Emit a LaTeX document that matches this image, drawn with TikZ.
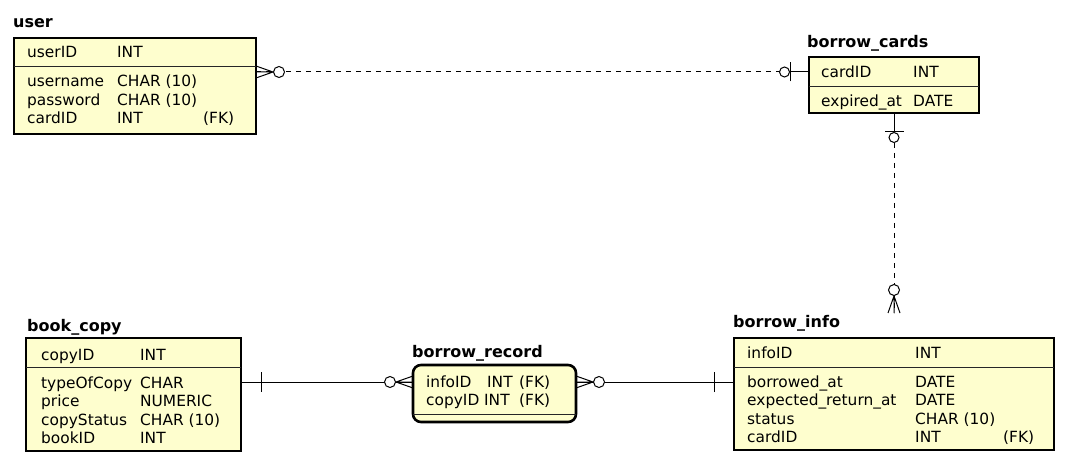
\documentclass[tikz,border=0pt]{standalone}
\usepackage{fontspec}
\setmainfont{DejaVu Sans}
\usetikzlibrary{calc}
\definecolor{entfill}{HTML}{FEFECE}
\begin{document}
\begin{tikzpicture}[x=1pt,y=-1pt,
  ent/.style={draw=black, line width=2.6pt, fill=entfill, anchor=north west, inner sep=0pt, outer sep=0pt},
  ttl/.style={anchor=base west, inner sep=0pt, font=\fontsize{16}{18}\selectfont\bfseries},
  fld/.style={anchor=base west, inner sep=0pt, font=\fontsize{15.4}{18}\selectfont},
  sep/.style={line width=0.8pt, draw=black!85},
  rel/.style={line width=1pt, solid},
  dsh/.style={line width=1pt, dash pattern=on 5pt off 5pt},
  zeromany/.pic={\draw[rel] (0,-6)--(17,0)--(0,6) (0,0)--(17,0); \draw[rel,fill=white] (23,0) circle[radius=5.5pt];},
  zeroone/.pic={\draw[rel] (0,0)--(19,0) (19,-9.5)--(19,9.5); \draw[rel,fill=white] (24.5,0) circle[radius=5pt];},
  exone/.pic={\draw[rel] (0,0)--(20,0) (20,-10)--(20,10);}
]
\useasboundingbox (0,0) rectangle (1068,465);

% ---------- user ----------
\node[ttl] (userT) at (13,28) {user};
\node[ent, minimum width=242pt, minimum height=96pt] (user) at (14,38) {};
\draw[sep] ([yshift=-28pt]user.north west) -- ([yshift=-28pt]user.north east);
\node[fld] (u1a) at (27,58) {userID};
\node[fld] (u1b) at (117,58) {INT};
\node[fld] (u2a) at (27,87) {username};
\node[fld] (u2b) at (117,87) {CHAR (10)};
\node[fld] (u3a) at (27,105.5) {password};
\node[fld] (u3b) at (117,105.5) {CHAR (10)};
\node[fld] (u4a) at (27,124) {cardID};
\node[fld] (u4b) at (117,124) {INT};
\node[fld] (u4c) at (203,124) {(FK)};

% ---------- borrow_cards ----------
\node[ttl] (cardsT) at (807,48) {borrow\_cards};
\node[ent, minimum width=170pt, minimum height=56pt] (cards) at (809,57) {};
\draw[sep] ([yshift=-29pt]cards.north west) -- ([yshift=-29pt]cards.north east);
\node[fld] (c1a) at (821,78) {cardID};
\node[fld] (c1b) at (913,78) {INT};
\node[fld] (c2a) at (821,107) {expired\_at};
\node[fld] (c2b) at (913,107) {DATE};

% ---------- book_copy ----------
\node[ttl] (copyT) at (27,331) {book\_copy};
\node[ent, minimum width=215pt, minimum height=113pt] (copy) at (26,338) {};
\draw[sep] ([yshift=-29pt]copy.north west) -- ([yshift=-29pt]copy.north east);
\node[fld] (k1a) at (41,360) {copyID};
\node[fld] (k1b) at (140,360) {INT};
\node[fld] (k2a) at (41,388) {typeOfCopy};
\node[fld] (k2b) at (140,388) {CHAR};
\node[fld] (k3a) at (41,406.5) {price};
\node[fld] (k3b) at (140,406.5) {NUMERIC};
\node[fld] (k4a) at (41,425) {copyStatus};
\node[fld] (k4b) at (140,425) {CHAR (10)};
\node[fld] (k5a) at (41,443.5) {bookID};
\node[fld] (k5b) at (140,443.5) {INT};

% ---------- borrow_record ----------
\node[ttl] (recT) at (412,357) {borrow\_record};
\node[ent, rounded corners=8pt, minimum width=163pt, minimum height=57pt] (rec) at (413,365) {};
\draw[sep] ([yshift=-49pt]rec.north west) -- ([yshift=-49pt]rec.north east);
\node[fld] (r1a) at (426,387) {infoID};
\node[fld] (r1b) at (487,387) {INT};
\node[fld] (r1c) at (519,387) {(FK)};
\node[fld] (r2a) at (426,405) {copyID};
\node[fld] (r2b) at (484,405) {INT};
\node[fld] (r2c) at (519,405) {(FK)};

% ---------- borrow_info ----------
\node[ttl] (infoT) at (733,327) {borrow\_info};
\node[ent, minimum width=320pt, minimum height=112pt] (info) at (734,338) {};
\draw[sep] ([yshift=-29pt]info.north west) -- ([yshift=-29pt]info.north east);
\node[fld] (i1a) at (747,358) {infoID};
\node[fld] (i1b) at (915,358) {INT};
\node[fld] (i2a) at (747,387) {borrowed\_at};
\node[fld] (i2b) at (915,387) {DATE};
\node[fld] (i3a) at (747,405.5) {expected\_return\_at};
\node[fld] (i3b) at (915,405.5) {DATE};
\node[fld] (i4a) at (747,424) {status};
\node[fld] (i4b) at (915,424) {CHAR (10)};
\node[fld] (i5a) at (747,442.5) {cardID};
\node[fld] (i5b) at (915,442.5) {INT};
\node[fld] (i5c) at (1003,442.5) {(FK)};

% ---------- attach points ----------
\coordinate (uR) at ([yshift=-34pt]user.north east);
\coordinate (cL) at ([yshift=-15pt]cards.north west);
\coordinate (cB) at (cards.south);
\coordinate (iT) at ([yshift=25pt]info.north);
\coordinate (kR) at ([yshift=-44pt]copy.north east);
\coordinate (rL) at ([yshift=-17pt]rec.north west);
\coordinate (rR) at ([yshift=-17pt]rec.north east);
\coordinate (iL) at ([yshift=-44pt]info.north west);

% ---------- connectors ----------
\draw[dsh] (uR) -- (cL);
\draw[dsh] (cB) -- (iT);
\draw[rel] (kR) -- (rL);
\draw[rel] (rR) -- (iL);

\path (uR) pic{zeromany};
\path (cL) pic[rotate=180]{zeroone};
\path (cB) pic[rotate=-90]{zeroone};
\path (iT) pic[rotate=90]{zeromany};
\path (kR) pic{exone};
\path (rL) pic[rotate=180]{zeromany};
\path (rR) pic{zeromany};
\path (iL) pic[rotate=180]{exone};
\end{tikzpicture}
\end{document}
